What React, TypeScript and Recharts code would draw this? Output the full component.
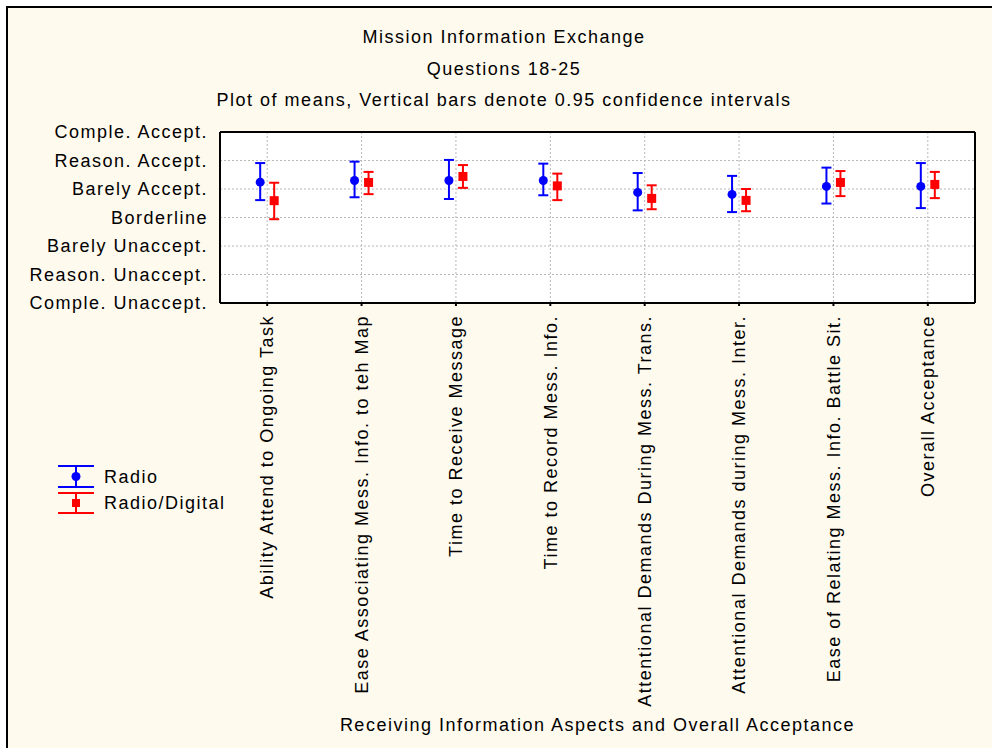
import React from 'react';
import { ComposedChart, Line, XAxis, YAxis, CartesianGrid, ErrorBar, Legend } from 'recharts';

const categories = [
  'Ability Attend to Ongoing Task',
  'Ease Associating Mess. Info. to teh Map',
  'Time to Receive Message',
  'Time to Record Mess. Info.',
  'Attentional Demands During Mess. Trans.',
  'Attentional Demands during Mess. Inter.',
  'Ease of Relating Mess. Info. Battle Sit.',
  'Overall Acceptance',
];

const radioMean = [5.24, 5.3, 5.3, 5.3, 4.88, 4.81, 5.09, 5.09];
const radioLow = [4.61, 4.71, 4.65, 4.78, 4.25, 4.19, 4.49, 4.33];
const radioHigh = [5.91, 5.96, 6.02, 5.89, 5.56, 5.46, 5.75, 5.91];

const digitalMean = [4.59, 5.23, 5.44, 5.11, 4.67, 4.6, 5.23, 5.16];
const digitalLow = [3.94, 4.82, 5.04, 4.61, 4.29, 4.22, 4.75, 4.68];
const digitalHigh = [5.22, 5.6, 5.84, 5.54, 5.13, 5.0, 5.63, 5.6];

const yTickValues = [1, 2, 3, 4, 5, 6, 7];
const yTickLabels = [
  'Comple. Unaccept.',
  'Reason. Unaccept.',
  'Barely Unaccept.',
  'Borderline',
  'Barely Accept.',
  'Reason. Accept.',
  'Comple. Accept.',
];

const titleLines = [
  'Mission Information Exchange',
  'Questions 18-25',
  'Plot of means, Vertical bars denote 0.95 confidence intervals',
];
const xAxisTitle = 'Receiving Information Aspects and Overall Acceptance';

const seriesNames = ['Radio', 'Radio/Digital'];
const seriesColors = ['#0000ff', '#ff0000'];
const BLUE = seriesColors[0];
const RED = seriesColors[1];
const FONT = '"Liberation Sans", Arial, sans-serif';
const LS = 1.5;

const data = categories.map((name, i) => ({
  name,
  radio: radioMean[i],
  radioErr: [radioMean[i] - radioLow[i], radioHigh[i] - radioMean[i]],
  digital: digitalMean[i],
  digitalErr: [digitalMean[i] - digitalLow[i], digitalHigh[i] - digitalMean[i]],
}));

const XTick = (props: any) => {
  const { x, y, payload } = props;
  const ty = y + 9;
  return (
    <text
      x={x}
      y={ty}
      transform={`rotate(-90, ${x}, ${ty})`}
      textAnchor="end"
      dy="0.35em"
      fontSize={18}
      fontFamily={FONT}
      letterSpacing={LS}
      fill="#000"
    >
      {payload.value}
    </text>
  );
};

const YTick = (props: any) => {
  const { x, y, payload } = props;
  return (
    <text
      x={x}
      y={y}
      textAnchor="end"
      dy="0.35em"
      fontSize={18}
      fontFamily={FONT}
      letterSpacing={LS}
      fill="#000"
    >
      {yTickLabels[yTickValues.indexOf(payload.value)]}
    </text>
  );
};

const CircleDot = (props: any) => {
  const { cx, cy, index } = props;
  if (cx == null || cy == null) return <g key={`c${index}`} />;
  return <circle key={`c${index}`} cx={cx} cy={cy} r={4.5} fill={BLUE} />;
};

const SquareDot = (props: any) => {
  const { cx, cy, index } = props;
  if (cx == null || cy == null) return <g key={`s${index}`} />;
  return <rect key={`s${index}`} x={cx - 4.5} y={cy - 4.5} width={9} height={9} fill={RED} />;
};

const LegendContent = (props: any) => {
  const payload = props.payload || [];
  return (
    <svg width={220} height={62} style={{ display: 'block' }}>
      {payload.map((entry: any, i: number) => {
        const isBlue = i === 0;
        const top = isBlue ? 6 : 33;
        const bot = isBlue ? 27 : 53;
        const mid = (top + bot) / 2;
        const c = seriesColors[i];
        return (
          <g key={entry.value}>
            <line x1={8} x2={44} y1={top} y2={top} stroke={c} strokeWidth={2} />
            <line x1={8} x2={44} y1={bot} y2={bot} stroke={c} strokeWidth={2} />
            <line x1={26} x2={26} y1={top} y2={bot} stroke={c} strokeWidth={2} />
            {isBlue ? (
              <circle cx={26} cy={mid} r={4.5} fill={c} />
            ) : (
              <rect x={22} y={mid - 4} width={8} height={8} fill={c} />
            )}
            <text
              x={54}
              y={mid}
              dy="0.35em"
              fontSize={18}
              fontFamily={FONT}
              letterSpacing={LS}
              fill="#000"
            >
              {entry.value}
            </text>
          </g>
        );
      })}
    </svg>
  );
};

export default function App() {
  return (
    <div style={{ position: 'absolute', left: 0, top: 0, width: 992, height: 748, background: '#fff', overflow: 'hidden' }}>
      <div
        style={{
          position: 'absolute',
          left: 6,
          top: 6,
          width: 1000,
          height: 760,
          borderLeft: '2px solid #000',
          borderTop: '2px solid #000',
          background: '#fffaee',
        }}
      />
      {titleLines.map((t, i) => (
        <div
          key={t}
          style={{
            position: 'absolute',
            left: 204,
            width: 600,
            top: [37, 69, 100][i] - 11,
            height: 22,
            lineHeight: '22px',
            textAlign: 'center',
            fontSize: 18,
            fontFamily: FONT,
            letterSpacing: LS,
            color: '#000',
            whiteSpace: 'nowrap',
          }}
        >
          {t}
        </div>
      ))}
      <div style={{ position: 'absolute', left: 0, top: 0 }}>
        <ComposedChart
          width={992}
          height={748}
          data={data}
          margin={{ top: 132, right: 17, bottom: 0, left: 0 }}
        >
          <CartesianGrid
            xAxisId="main"
            yAxisId="left"
            stroke="#b8b8b8"
            strokeDasharray="2 2"
            fill="#ffffff"
            fillOpacity={1}
          />
          <XAxis xAxisId="blue" dataKey="name" type="category" scale="band" hide height={0} padding={{ left: -7, right: 7 }} />
          <XAxis xAxisId="red" dataKey="name" type="category" scale="band" hide height={0} padding={{ left: 7, right: -7 }} />
          <XAxis
            xAxisId="main"
            dataKey="name"
            type="category"
            scale="band"
            height={445}
            interval={0}
            tickSize={3}
            tickMargin={0}
            axisLine={{ stroke: '#000', strokeWidth: 2 }}
            tickLine={{ stroke: '#000', strokeWidth: 2 }}
            tick={<XTick />}
            label={{
              value: xAxisTitle,
              position: 'insideBottom',
              offset: 17,
              fontSize: 18,
              fontFamily: FONT,
              letterSpacing: LS,
              fill: '#000',
            }}
          />
          <XAxis
            xAxisId="top"
            dataKey="name"
            type="category"
            scale="band"
            orientation="top"
            height={1}
            mirror
            interval={0}
            tickSize={4}
            tick={false}
            axisLine={{ stroke: '#000', strokeWidth: 2 }}
            tickLine={{ stroke: '#000', strokeWidth: 2 }}
          />
          <YAxis
            yAxisId="left"
            type="number"
            domain={[1, 7]}
            ticks={yTickValues}
            width={220}
            tickSize={0}
            tickMargin={12}
            axisLine={{ stroke: '#000', strokeWidth: 2 }}
            tickLine={false}
            tick={<YTick />}
            interval={0}
          />
          <YAxis
            yAxisId="leftIn"
            type="number"
            domain={[1, 7]}
            ticks={yTickValues}
            width={1}
            mirror
            tickSize={4}
            tick={false}
            axisLine={false}
            tickLine={{ stroke: '#000', strokeWidth: 2 }}
          />
          <YAxis
            yAxisId="right"
            orientation="right"
            type="number"
            domain={[1, 7]}
            ticks={yTickValues}
            width={1}
            mirror
            tickSize={4}
            tick={false}
            axisLine={{ stroke: '#000', strokeWidth: 2 }}
            tickLine={{ stroke: '#000', strokeWidth: 2 }}
          />
          <Legend
            layout="vertical"
            align="center"
            verticalAlign="middle"
            content={<LegendContent />}
            wrapperStyle={{ position: 'absolute', left: 50, top: 460, width: 220, height: 62 }}
          />
          <Line
            xAxisId="blue"
            yAxisId="left"
            dataKey="radio"
            name={seriesNames[0]}
            stroke="none"
            fill={BLUE}
            dot={CircleDot}
            activeDot={false}
            isAnimationActive={false}
          >
            <ErrorBar dataKey="radioErr" width={5} strokeWidth={2} stroke={BLUE} direction="y" />
          </Line>
          <Line
            xAxisId="red"
            yAxisId="left"
            dataKey="digital"
            name={seriesNames[1]}
            stroke="none"
            fill={RED}
            dot={SquareDot}
            activeDot={false}
            isAnimationActive={false}
          >
            <ErrorBar dataKey="digitalErr" width={5} strokeWidth={2} stroke={RED} direction="y" />
          </Line>
        </ComposedChart>
      </div>
    </div>
  );
}
